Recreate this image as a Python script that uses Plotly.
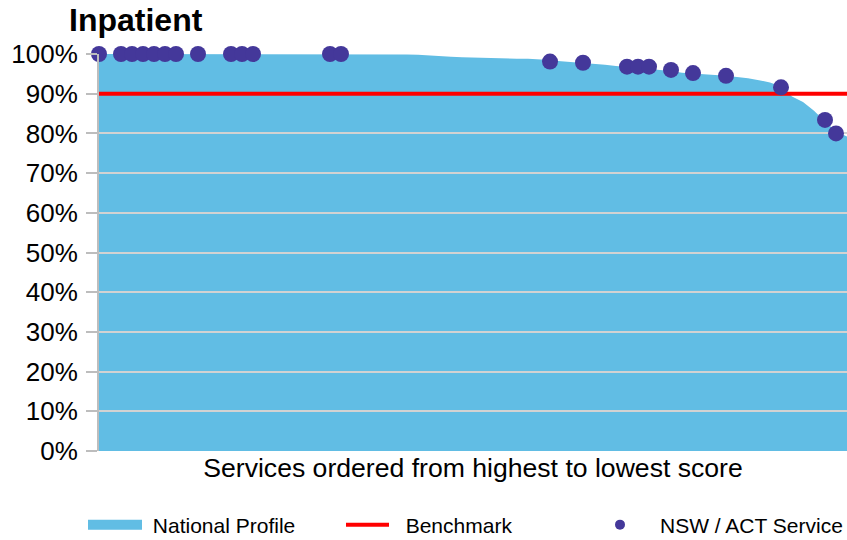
import plotly.graph_objects as go

# ---- data ----
service_rank = list(range(69))
national_profile = [
    1.000, 1.000, 1.000, 1.000, 1.000, 1.000, 1.000, 1.000, 1.000, 1.000,
    1.000, 1.000, 1.000, 1.000, 1.000, 1.000, 1.000, 1.000, 1.000, 1.000,
    1.000, 1.000, 1.000, 1.000, 1.000, 1.000, 1.000, 1.000, 0.999, 0.998,
    0.996, 0.994, 0.993, 0.992, 0.991, 0.990, 0.990, 0.989, 0.988, 0.988,
    0.987, 0.985, 0.982, 0.980, 0.978, 0.976, 0.973, 0.970, 0.968, 0.965,
    0.962, 0.960, 0.957, 0.953, 0.951, 0.950, 0.948, 0.945, 0.942, 0.939,
    0.934, 0.928, 0.918, 0.893, 0.879, 0.857, 0.830, 0.805, 0.792,
]
benchmark_value = 0.90
nsw_rank = [0, 2, 3, 4, 5, 6, 7, 9, 12, 13, 14, 21, 22,
            41, 44, 48, 49, 50, 52, 54, 57, 62, 66, 67]
nsw_score = [1.000, 1.000, 1.000, 1.000, 1.000, 1.000, 1.000, 1.000, 1.000,
             1.000, 1.000, 1.000, 1.000,
             0.981, 0.978, 0.968, 0.968, 0.968, 0.960, 0.952, 0.945,
             0.916, 0.834, 0.800]
y_ticks = [0.0, 0.1, 0.2, 0.3, 0.4, 0.5, 0.6, 0.7, 0.8, 0.9, 1.0]

AREA = "#61BDE4"
DOT = "#44389A"
RED = "#FF0000"
GRID = "#D2D2D2"
AXIS = "#BDBDBD"
FONT = "Liberation Sans, Arial, sans-serif"
NB = "\u00a0"

W, H = 847, 540

fig = go.Figure()

# national profile area on the lower subplot (gridlines of the upper subplot sit above it)
fig.add_trace(go.Scatter(
    x=service_rank, y=national_profile, mode="lines",
    line=dict(width=0, color=AREA), fill="tozeroy", fillcolor=AREA,
    showlegend=False, hoverinfo="skip", xaxis="x", yaxis="y"))

# legend proxy for the national profile
fig.add_trace(go.Scatter(
    x=[None], y=[None], mode="lines", name=NB + "National Profile",
    line=dict(width=10, color=AREA), xaxis="x2", yaxis="y2", legend="legend"))

# benchmark line
fig.add_trace(go.Scatter(
    x=[service_rank[0], service_rank[-1]], y=[benchmark_value, benchmark_value],
    mode="lines", name=NB + NB + "Benchmark", line=dict(width=4, color=RED),
    xaxis="x2", yaxis="y2", legend="legend2"))

# NSW / ACT services
fig.add_trace(go.Scatter(
    x=nsw_rank, y=nsw_score, mode="markers", showlegend=False,
    marker=dict(size=16, color=DOT), cliponaxis=False,
    xaxis="x2", yaxis="y2"))

fig.add_trace(go.Scatter(
    x=[None], y=[None], mode="markers", name="NSW / ACT Service",
    marker=dict(size=10, color=DOT), xaxis="x2", yaxis="y2", legend="legend3"))

leg_y = 1 - 525 / H
leg_common = dict(orientation="h", xref="container", yref="container",
                  xanchor="left", y=leg_y, yanchor="middle",
                  font=dict(size=21, color="black"), bgcolor="rgba(0,0,0,0)")

fig.update_layout(
    width=W, height=H,
    margin=dict(l=99, r=0, t=54, b=89),
    paper_bgcolor="white", plot_bgcolor="rgba(0,0,0,0)",
    font=dict(family=FONT, color="black"),
    hovermode=False,
    title=dict(text="<b>Inpatient</b>", font=dict(size=32, color="black"),
               x=69 / W, xanchor="left", xref="container",
               y=1 - 20 / H, yanchor="middle", yref="container"),
    xaxis=dict(domain=[0, 1], range=[0, 68], visible=False),
    yaxis=dict(domain=[0, 1], range=[0, 1], visible=False),
    xaxis2=dict(domain=[0, 1], range=[0, 68], anchor="y2", automargin=False,
                showgrid=False, zeroline=False, showticklabels=False,
                ticks="", showline=False,
                title=dict(text="Services ordered from highest to lowest score",
                           font=dict(size=26.6), standoff=7)),
    yaxis2=dict(domain=[0, 1], range=[0, 1], anchor="x2", automargin=False,
                tickvals=y_ticks, tickformat=".0%",
                tickfont=dict(size=26), ticklabelstandoff=3,
                showgrid=True, gridcolor=GRID, gridwidth=2,
                ticks="outside", ticklen=11, tickwidth=2, tickcolor=AXIS,
                showline=True, linecolor=AXIS, linewidth=2,
                zeroline=False),
    legend=dict(x=83 / W, itemwidth=54, **leg_common),
    legend2=dict(x=341 / W, itemwidth=43, **leg_common),
    legend3=dict(x=580 / W, itemwidth=70, **leg_common),
    showlegend=True,
)

# remove the browser's default 8px page margin so the figure fills the window
fig.write_html(
    "out.html",
    config={"displayModeBar": False},
    post_script="document.body.style.margin='0';"
                "document.documentElement.style.overflow='hidden';",
)
